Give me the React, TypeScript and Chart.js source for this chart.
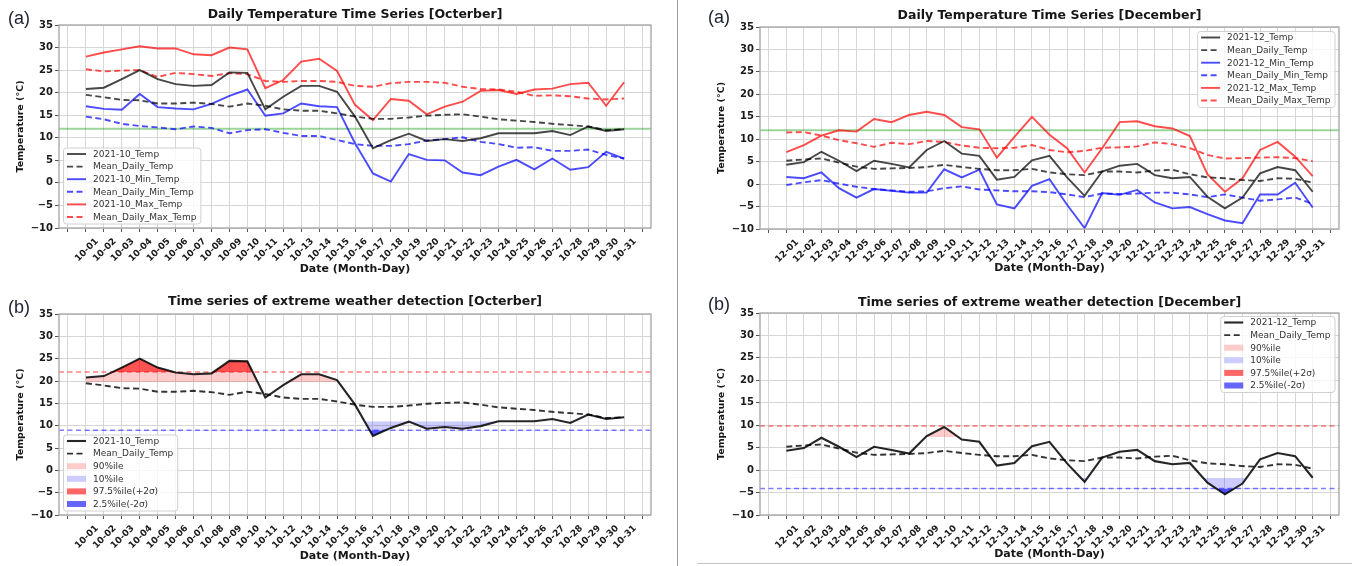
import { useEffect, useRef } from 'react';
import { Chart, registerables } from 'chart.js';

Chart.register(...registerables);

// ---------------- data ----------------
const OCT_DATES = ['10-01','10-02','10-03','10-04','10-05','10-06','10-07','10-08','10-09','10-10','10-11','10-12','10-13','10-14','10-15','10-16','10-17','10-18','10-19','10-20','10-21','10-22','10-23','10-24','10-25','10-26','10-27','10-28','10-29','10-30','10-31'];
const DEC_DATES = ['12-01','12-02','12-03','12-04','12-05','12-06','12-07','12-08','12-09','12-10','12-11','12-12','12-13','12-14','12-15','12-16','12-17','12-18','12-19','12-20','12-21','12-22','12-23','12-24','12-25','12-26','12-27','12-28','12-29','12-30','12-31'];

const OCT_TEMP = [20.8,21.1,23.0,25.0,23.0,21.9,21.5,21.7,24.5,24.4,16.3,19.1,21.5,21.5,20.2,14.7,7.7,9.5,10.9,9.3,9.7,9.3,9.9,11.0,11.0,11.0,11.5,10.6,12.5,11.5,11.9];
const OCT_MEAN_TEMP = [19.5,19.0,18.4,18.3,17.6,17.6,17.8,17.5,16.9,17.6,17.1,16.3,16.0,16.0,15.4,14.7,14.2,14.2,14.5,14.9,15.1,15.2,14.7,14.1,13.8,13.5,13.1,12.8,12.5,11.7,11.9];
const OCT_MIN_TEMP = [17.0,16.4,16.2,19.7,16.8,16.5,16.3,17.5,19.3,20.7,14.9,15.4,17.6,17.0,16.8,8.8,2.1,0.3,6.4,5.1,5.0,2.3,1.7,3.6,5.1,3.0,5.4,2.9,3.5,6.9,5.4];
const OCT_MEAN_MIN_TEMP = [14.7,14.1,13.1,12.6,12.3,11.9,12.5,12.2,11.0,11.7,11.9,11.1,10.4,10.4,9.5,8.6,8.2,8.2,8.6,9.4,9.7,10.1,9.1,8.6,7.8,7.9,7.1,7.1,7.4,6.2,5.4];
const OCT_MAX_TEMP = [28.0,28.9,29.6,30.3,29.8,29.8,28.5,28.3,30.0,29.6,21.0,22.8,26.9,27.5,24.8,17.3,13.9,18.6,18.2,15.2,16.9,18.0,20.4,20.6,19.7,20.7,20.9,21.9,22.2,17.1,22.3];
const OCT_MEAN_MAX_TEMP = [25.2,24.7,24.9,25.0,23.5,24.4,24.1,23.7,24.3,24.1,22.6,22.4,22.6,22.6,22.4,21.5,21.3,22.1,22.4,22.4,22.2,21.3,20.8,20.7,20.2,19.3,19.4,19.2,18.7,18.5,18.7];

const DEC_TEMP = [4.3,4.9,7.2,5.2,2.9,5.2,4.5,3.7,7.6,9.6,6.8,6.3,1.0,1.6,5.3,6.3,1.5,-2.6,2.8,4.1,4.5,2.0,1.3,1.6,-2.8,-5.4,-3.0,2.4,3.8,3.1,-1.7];
const DEC_MEAN_TEMP = [5.2,5.5,5.7,4.8,3.9,3.4,3.5,3.6,3.8,4.3,3.8,3.4,3.1,3.1,3.4,2.6,2.2,2.0,2.8,2.8,2.6,3.0,3.2,2.2,1.5,1.3,0.9,0.7,1.3,1.2,0.3];
const DEC_MIN_TEMP = [1.6,1.3,2.6,-0.9,-3.0,-1.1,-1.5,-1.9,-1.9,3.3,1.5,3.2,-4.5,-5.4,-0.4,1.1,-4.6,-9.8,-2.0,-2.4,-1.3,-4.1,-5.4,-5.1,-6.7,-8.1,-8.7,-2.3,-2.3,0.3,-5.2];
const DEC_MEAN_MIN_TEMP = [-0.2,0.4,0.9,0.1,-0.6,-1.1,-1.4,-1.7,-1.6,-0.9,-0.5,-1.2,-1.4,-1.6,-1.6,-1.8,-2.3,-2.9,-2.1,-2.2,-2.1,-1.9,-1.9,-2.3,-2.9,-2.3,-3.0,-3.7,-3.4,-3.0,-4.4];
const DEC_MAX_TEMP = [7.1,8.7,10.8,12.0,11.7,14.5,13.8,15.4,16.1,15.4,12.7,12.2,5.9,10.5,15.0,11.0,8.0,2.6,8.0,13.8,14.0,12.9,12.4,10.7,2.2,-1.7,1.3,7.6,9.4,6.1,1.8];
const DEC_MEAN_MAX_TEMP = [11.5,11.6,10.8,9.8,9.1,8.3,9.2,8.9,9.6,9.4,8.6,8.1,8.0,8.1,8.7,7.6,7.1,7.4,8.1,8.2,8.4,9.3,8.9,8.0,6.5,5.7,5.8,5.9,6.0,5.8,5.1];

const REFERENCE_TEMP = 12;
const OCT_P90 = 19.8, OCT_P975 = 22.0, OCT_P10 = 11.0, OCT_P025 = 9.0;
const DEC_P90 = 7.4, DEC_P975 = 9.8, DEC_P10 = -1.7, DEC_P025 = -4.1;

const Y_MIN = -10, Y_MAX = 35, Y_STEP = 5;

const X_TITLE = 'Date (Month-Day)';
const Y_TITLE = 'Temperature (\u00B0C)';

// ---------------- styling ----------------
const FONT = '"DejaVu Sans", sans-serif';
const C_BLACK = 'rgba(0,0,0,0.72)';
const C_BLUE = 'rgba(0,0,255,0.7)';
const C_RED = 'rgba(255,0,0,0.7)';
const C_GREEN = 'rgba(0,150,0,0.4)';
const C_PINK = 'rgba(255,0,0,0.2)';
const C_LBLUE = 'rgba(0,0,255,0.2)';
const C_DRED = 'rgba(255,0,0,0.6)';
const C_DBLUE = 'rgba(0,0,255,0.6)';
const DASH = [6, 3.5];
const NONE = 'rgba(0,0,0,0)';
const LW = 1.9;

const pts = (vals: number[]) => vals.map((y, i) => ({ x: i, y }));
const lineDs = (label: string, vals: number[], color: string, width: number, dash: number[] = []) => ({
  label, data: pts(vals), borderColor: color, backgroundColor: color, borderWidth: width,
  borderDash: dash, pointRadius: 0, fill: false, tension: 0,
});
const fillDs = (vals: number[], value: number, side: 'above' | 'below', color: string) => ({
  label: '', data: pts(vals), borderColor: NONE, backgroundColor: color, borderWidth: 0,
  pointRadius: 0, tension: 0,
  fill: { target: { value }, above: side === 'above' ? color : NONE, below: side === 'below' ? color : NONE },
});

type LegendItem = { label: string; kind: 'line' | 'patch'; color: string; dash?: number[]; width?: number };
type Panel = {
  x: number; y: number; w: number; h: number;
  area: { left: number; right: number; top: number; bottom: number };
  dates: string[];
  letter: string; letterX: number; letterY: number;
  title: string; titleY: number; xTitleY: number; yTitleX: number;
  datasets: any[];
  hlines: { value: number; color: string; width: number; dash: number[] }[];
  hlineUnder: boolean;
  legend: { anchor: 'left' | 'right'; ax: number; vAnchor: 'top' | 'bottom'; ay: number; items: LegendItem[] };
};

const aLegend = (m: string): LegendItem[] => [
  { label: `2021-${m}_Temp`, kind: 'line', color: C_BLACK, width: LW },
  { label: 'Mean_Daily_Temp', kind: 'line', color: C_BLACK, width: LW, dash: DASH },
  { label: `2021-${m}_Min_Temp`, kind: 'line', color: C_BLUE, width: LW },
  { label: 'Mean_Daily_Min_Temp', kind: 'line', color: C_BLUE, width: LW, dash: DASH },
  { label: `2021-${m}_Max_Temp`, kind: 'line', color: C_RED, width: LW },
  { label: 'Mean_Daily_Max_Temp', kind: 'line', color: C_RED, width: LW, dash: DASH },
];
const bLegend = (m: string): LegendItem[] => [
  { label: `2021-${m}_Temp`, kind: 'line', color: 'rgba(0,0,0,0.85)', width: 2.1 },
  { label: 'Mean_Daily_Temp', kind: 'line', color: 'rgba(0,0,0,0.8)', width: 1.9, dash: DASH },
  { label: '90%ile', kind: 'patch', color: C_PINK },
  { label: '10%ile', kind: 'patch', color: C_LBLUE },
  { label: '97.5%ile(+2\u03C3)', kind: 'patch', color: C_DRED },
  { label: '2.5%ile(-2\u03C3)', kind: 'patch', color: C_DBLUE },
];

const aDatasets = (m: string, t: number[], mt: number[], mn: number[], mmn: number[], mx: number[], mmx: number[]) => [
  lineDs(`2021-${m}_Temp`, t, C_BLACK, LW),
  lineDs('Mean_Daily_Temp', mt, C_BLACK, LW, DASH),
  lineDs(`2021-${m}_Min_Temp`, mn, C_BLUE, LW),
  lineDs('Mean_Daily_Min_Temp', mmn, C_BLUE, LW, DASH),
  lineDs(`2021-${m}_Max_Temp`, mx, C_RED, LW),
  lineDs('Mean_Daily_Max_Temp', mmx, C_RED, LW, DASH),
];
const bDatasets = (m: string, t: number[], mt: number[], p90: number, p975: number, p10: number, p025: number) => [
  lineDs(`2021-${m}_Temp`, t, 'rgba(0,0,0,0.85)', 2.1),
  lineDs('Mean_Daily_Temp', mt, 'rgba(0,0,0,0.8)', 1.9, DASH),
  fillDs(t, p975, 'above', C_DRED),
  fillDs(t, p90, 'above', C_PINK),
  fillDs(t, p025, 'below', C_DBLUE),
  fillDs(t, p10, 'below', C_LBLUE),
];
const bLines = (p975: number, p025: number) => [
  { value: p975, color: 'rgba(255,0,0,0.5)', width: 1.5, dash: [5, 3.5] },
  { value: p025, color: 'rgba(0,0,255,0.5)', width: 1.5, dash: [5, 3.5] },
];

const PANELS: Panel[] = [
  {
    x: 0, y: 0, w: 677, h: 285, area: { left: 59, right: 651, top: 25, bottom: 228 }, dates: OCT_DATES,
    letter: '(a)', letterX: 8, letterY: 19, title: 'Daily Temperature Time Series [Octerber]', titleY: 15,
    xTitleY: 269, yTitleX: 21,
    datasets: aDatasets('10', OCT_TEMP, OCT_MEAN_TEMP, OCT_MIN_TEMP, OCT_MEAN_MIN_TEMP, OCT_MAX_TEMP, OCT_MEAN_MAX_TEMP),
    hlines: [{ value: REFERENCE_TEMP, color: C_GREEN, width: 1.8, dash: [] }], hlineUnder: true,
    legend: { anchor: 'left', ax: 63, vAnchor: 'bottom', ay: 223.5, items: aLegend('10') },
  },
  {
    x: 0, y: 285, w: 677, h: 281, area: { left: 59, right: 651, top: 29, bottom: 230 }, dates: OCT_DATES,
    letter: '(b)', letterX: 8, letterY: 23, title: 'Time series of extreme weather detection [Octerber]', titleY: 17,
    xTitleY: 271, yTitleX: 21,
    datasets: bDatasets('10', OCT_TEMP, OCT_MEAN_TEMP, OCT_P90, OCT_P975, OCT_P10, OCT_P025),
    hlines: bLines(OCT_P975, OCT_P025), hlineUnder: false,
    legend: { anchor: 'left', ax: 63, vAnchor: 'bottom', ay: 225.5, items: bLegend('10') },
  },
  {
    x: 679, y: 0, w: 683, h: 285, area: { left: 81, right: 660, top: 27, bottom: 229 }, dates: DEC_DATES,
    letter: '(a)', letterX: 29, letterY: 18, title: 'Daily Temperature Time Series [December]', titleY: 16,
    xTitleY: 268, yTitleX: 43,
    datasets: aDatasets('12', DEC_TEMP, DEC_MEAN_TEMP, DEC_MIN_TEMP, DEC_MEAN_MIN_TEMP, DEC_MAX_TEMP, DEC_MEAN_MAX_TEMP),
    hlines: [{ value: REFERENCE_TEMP, color: C_GREEN, width: 1.8, dash: [] }], hlineUnder: true,
    legend: { anchor: 'right', ax: 655.5, vAnchor: 'top', ay: 31, items: aLegend('12') },
  },
  {
    x: 679, y: 285, w: 683, h: 281, area: { left: 81, right: 660, top: 28, bottom: 230 }, dates: DEC_DATES,
    letter: '(b)', letterX: 29, letterY: 20, title: 'Time series of extreme weather detection [December]', titleY: 18,
    xTitleY: 269, yTitleX: 43,
    datasets: bDatasets('12', DEC_TEMP, DEC_MEAN_TEMP, DEC_P90, DEC_P975, DEC_P10, DEC_P025),
    hlines: bLines(DEC_P975, DEC_P025), hlineUnder: false,
    legend: { anchor: 'right', ax: 655.5, vAnchor: 'top', ay: 31, items: bLegend('12') },
  },
];

function drawHLines(chart: any, p: Panel) {
  const { ctx, chartArea: a } = chart;
  const ys = chart.scales.y;
  ctx.save();
  for (const h of p.hlines) {
    const y = ys.getPixelForValue(h.value);
    ctx.beginPath();
    ctx.setLineDash(h.dash);
    ctx.strokeStyle = h.color;
    ctx.lineWidth = h.width;
    ctx.moveTo(a.left, y);
    ctx.lineTo(a.right, y);
    ctx.stroke();
  }
  ctx.restore();
}

function drawLegend(ctx: CanvasRenderingContext2D, p: Panel) {
  const lg = p.legend;
  const pitch = 12.6, pad = 4, handle = 19, gap = 7, edge = 6.5;
  ctx.save();
  ctx.font = `9px ${FONT}`;
  const maxW = Math.max(...lg.items.map((it) => ctx.measureText(it.label).width));
  const w = pad + handle + gap + maxW + pad;
  const h = edge * 2 + pitch * (lg.items.length - 1);
  const left = lg.anchor === 'left' ? lg.ax : lg.ax - w;
  const top = lg.vAnchor === 'top' ? lg.ay : lg.ay - h;
  ctx.beginPath();
  (ctx as any).roundRect(left + 0.5, top + 0.5, w, h, 3);
  ctx.fillStyle = 'rgba(255,255,255,0.8)';
  ctx.fill();
  ctx.strokeStyle = '#d0d0d0';
  ctx.lineWidth = 1;
  ctx.stroke();
  lg.items.forEach((it, i) => {
    const cy = top + edge + i * pitch;
    const hx = left + pad;
    if (it.kind === 'line') {
      ctx.beginPath();
      ctx.setLineDash(it.dash || []);
      ctx.strokeStyle = it.color;
      ctx.lineWidth = it.width || LW;
      ctx.moveTo(hx, cy);
      ctx.lineTo(hx + handle, cy);
      ctx.stroke();
      ctx.setLineDash([]);
    } else {
      ctx.fillStyle = it.color;
      ctx.fillRect(hx, cy - 3, handle, 6);
    }
    ctx.fillStyle = '#333';
    ctx.textAlign = 'left';
    ctx.textBaseline = 'middle';
    ctx.fillText(it.label, hx + handle + gap, cy + 0.5);
  });
  ctx.restore();
}

function buildConfig(p: Panel): any {
  const n = p.dates.length;
  const gridIdx: number[] = [];
  for (let i = -1; i <= n; i++) gridIdx.push(i);
  const decor = {
    id: 'decor',
    beforeDatasetsDraw(chart: any) {
      if (p.hlineUnder) drawHLines(chart, p);
    },
    beforeDatasetDraw(chart: any, args: any) {
      if (!p.hlineUnder && args.index === 0) drawHLines(chart, p);
    },
    afterDatasetsDraw(chart: any) {
      const { ctx, chartArea: a } = chart;
      ctx.save();
      ctx.strokeStyle = '#a4a4a4';
      ctx.lineWidth = 1.3;
      ctx.strokeRect(a.left, a.top, a.right - a.left, a.bottom - a.top);
      ctx.restore();
    },
    afterDraw(chart: any) {
      const { ctx, chartArea: a } = chart;
      const cx = (a.left + a.right) / 2;
      ctx.save();
      ctx.textBaseline = 'middle';
      ctx.textAlign = 'left';
      ctx.fillStyle = '#1c2230';
      ctx.font = '18px "Liberation Sans", sans-serif';
      ctx.fillText(p.letter, p.letterX, p.letterY);
      ctx.textAlign = 'center';
      ctx.fillStyle = '#161616';
      ctx.font = `bold 12.5px ${FONT}`;
      ctx.fillText(p.title, cx, p.titleY);
      ctx.font = `bold 11px ${FONT}`;
      ctx.fillText(X_TITLE, cx, p.xTitleY);
      ctx.translate(p.yTitleX, (a.top + a.bottom) / 2);
      ctx.rotate(-Math.PI / 2);
      ctx.font = `bold 9.5px ${FONT}`;
      ctx.fillText(Y_TITLE, 0, 0);
      ctx.restore();
      drawLegend(ctx, p);
    },
  };
  return {
    type: 'line',
    data: { datasets: p.datasets },
    options: {
      animation: false,
      responsive: false,
      events: [],
      layout: { padding: { left: 0, top: p.area.top, right: p.w - p.area.right, bottom: 0 } },
      plugins: { legend: { display: false }, tooltip: { enabled: false }, title: { display: false } },
      scales: {
        x: {
          type: 'linear',
          min: -1.5,
          max: n + 0.5,
          afterBuildTicks: (s: any) => { s.ticks = gridIdx.map((v) => ({ value: v })); },
          afterFit: (s: any) => { s.height = p.h - p.area.bottom; },
          ticks: {
            autoSkip: false, minRotation: 45, maxRotation: 45, labelOffset: 11, padding: 4,
            color: '#1a1a1a', font: { family: FONT, weight: 'bold', size: 9 },
            callback: (v: number) => p.dates[v] ?? '',
          },
          grid: { color: '#d6d6d6', lineWidth: 1, drawTicks: true, tickLength: 4, tickColor: '#555' },
          border: { display: false },
        },
        y: {
          min: Y_MIN,
          max: Y_MAX,
          afterFit: (s: any) => { s.width = p.area.left; },
          ticks: {
            stepSize: Y_STEP, padding: 2, color: '#1a1a1a', font: { family: FONT, weight: 'bold', size: 10 },
            callback: (v: number) => (v < 0 ? '\u2212' + Math.abs(v) : String(v)),
          },
          grid: { color: '#d6d6d6', lineWidth: 1, drawTicks: true, tickLength: 4, tickColor: '#555' },
          border: { display: false },
        },
      },
      elements: { point: { radius: 0 }, line: { tension: 0 } },
    },
    plugins: [decor],
  };
}

export default function App() {
  const r0 = useRef<HTMLCanvasElement>(null);
  const r1 = useRef<HTMLCanvasElement>(null);
  const r2 = useRef<HTMLCanvasElement>(null);
  const r3 = useRef<HTMLCanvasElement>(null);
  const refs = [r0, r1, r2, r3];

  useEffect(() => {
    document.body.style.margin = '0';
    const charts = PANELS.map((p, i) => new Chart(refs[i].current as HTMLCanvasElement, buildConfig(p)));
    return () => charts.forEach((c) => c.destroy());
  }, []);

  return (
    <div style={{ position: 'relative', width: 1362, height: 566, background: '#fff', overflow: 'hidden' }}>
      {PANELS.map((p, i) => (
        <canvas
          key={i}
          ref={refs[i]}
          width={p.w}
          height={p.h}
          style={{ position: 'absolute', left: p.x, top: p.y, width: p.w, height: p.h }}
        />
      ))}
      <div style={{ position: 'absolute', left: 677, top: 0, width: 1, height: 566, background: '#9c9c9c' }} />
      <div style={{ position: 'absolute', left: 697, top: 563, width: 655, height: 1, background: '#c4c4c4' }} />
    </div>
  );
}
